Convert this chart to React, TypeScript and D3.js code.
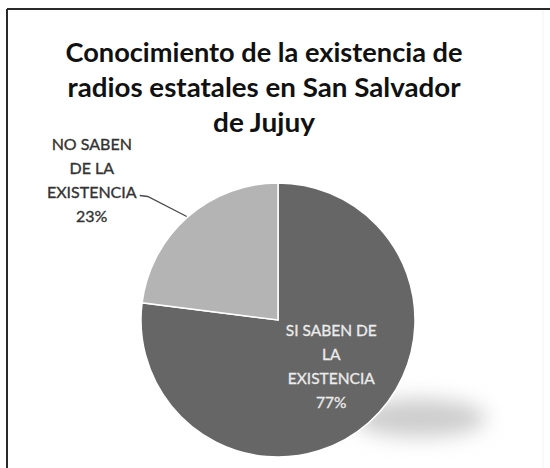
import React from "react";
import * as d3 from "d3";

const titleLines = [
  "Conocimiento de la existencia de",
  "radios estatales en San Salvador",
  "de Jujuy",
];
const categories = ["SI SABEN DE LA EXISTENCIA", "NO SABEN DE LA EXISTENCIA"];
const values = [77, 23];
const labelLines = [
  ["SI SABEN DE", "LA", "EXISTENCIA", "77%"],
  ["NO SABEN", "DE LA", "EXISTENCIA", "23%"],
];
const colors = ["#666666", "#b4b4b4"];

const W = 550;
const H = 468;
const cx = 278;
const cy = 320;
const R = 137;

export default function App() {
  const pie = d3.pie<number>().sort(null).value((d) => d);
  const arcs = pie(values);
  const arc = d3.arc<d3.PieArcDatum<number>>().innerRadius(0).outerRadius(R);
  const inner = d3.arc<d3.PieArcDatum<number>>().innerRadius(R * 0.5).outerRadius(R * 0.5);
  const edge = d3.arc<d3.PieArcDatum<number>>().innerRadius(R + 1).outerRadius(R + 1);

  const c0 = inner.centroid(arcs[0]);
  const lab0x = c0[0] + 8;
  const lab0y = c0[1] - 35;

  const e1 = edge.centroid(arcs[1]);
  const lead1 = [e1[0] - 39, e1[1] - 20];
  const lead2 = [lead1[0] - 8, lead1[1] - 1];
  const lab1x = lead2[0] - 50 + 2;
  const lab1y = lead2[1] - 46;

  const lineH = 24;

  return (
    <svg
      width={W}
      height={H}
      style={{ position: "absolute", left: 0, top: 0, background: "#fff" }}
      fontFamily="Lato, 'Open Sans', sans-serif"
    >
      <defs>
        <filter id="blur" x="-60%" y="-100%" width="220%" height="300%">
          <feGaussianBlur stdDeviation="10" />
        </filter>
      </defs>
      <rect x={0} y={0} width={W} height={H} fill="#fff" />
      <line x1={7} y1={9} x2={W} y2={9} stroke="#2a2a2a" strokeWidth={2} />
      <line x1={7} y1={9} x2={7} y2={H} stroke="#2a2a2a" strokeWidth={2} />
      <line x1={543} y1={10} x2={543} y2={H} stroke="#f2f2f2" strokeWidth={1} />

      {titleLines.map((t, i) => (
        <text
          key={i}
          x={264}
          y={62 + i * 35}
          textAnchor="middle"
          fontWeight={700}
          fontSize={27}
          fill="#111"
          textLength={i === 0 ? 397 : i === 1 ? 393 : 102}
          lengthAdjust="spacingAndGlyphs"
        >
          {t}
        </text>
      ))}

      <ellipse
        cx={cx + 142}
        cy={cy + 98}
        rx={66}
        ry={19}
        fill="#cdcdcd"
        filter="url(#blur)"
      />

      <g transform={`translate(${cx},${cy})`}>
        {arcs.map((a, i) => (
          <path
            key={categories[i]}
            d={arc(a) || ""}
            fill={colors[i]}
            stroke="#ffffff"
            strokeWidth={1.5}
          />
        ))}

        <polyline
          points={`${e1[0]},${e1[1]} ${lead1[0]},${lead1[1]} ${lead2[0]},${lead2[1]}`}
          fill="none"
          stroke="#4a4a4a"
          strokeWidth={1.3}
        />

        {labelLines[0].map((t, i) => (
          <text
            key={"a" + i}
            x={lab0x}
            y={lab0y + i * lineH}
            textAnchor="middle"
            fontSize={15.5}
            fill="#ececec"
            stroke="#ececec"
            strokeWidth={0.3}
          >
            {t}
          </text>
        ))}
        {labelLines[1].map((t, i) => (
          <text
            key={"b" + i}
            x={lab1x}
            y={lab1y + i * lineH}
            textAnchor="middle"
            fontSize={16}
            fill="#333"
            stroke="#333"
            strokeWidth={0.35}
          >
            {t}
          </text>
        ))}
      </g>
    </svg>
  );
}
